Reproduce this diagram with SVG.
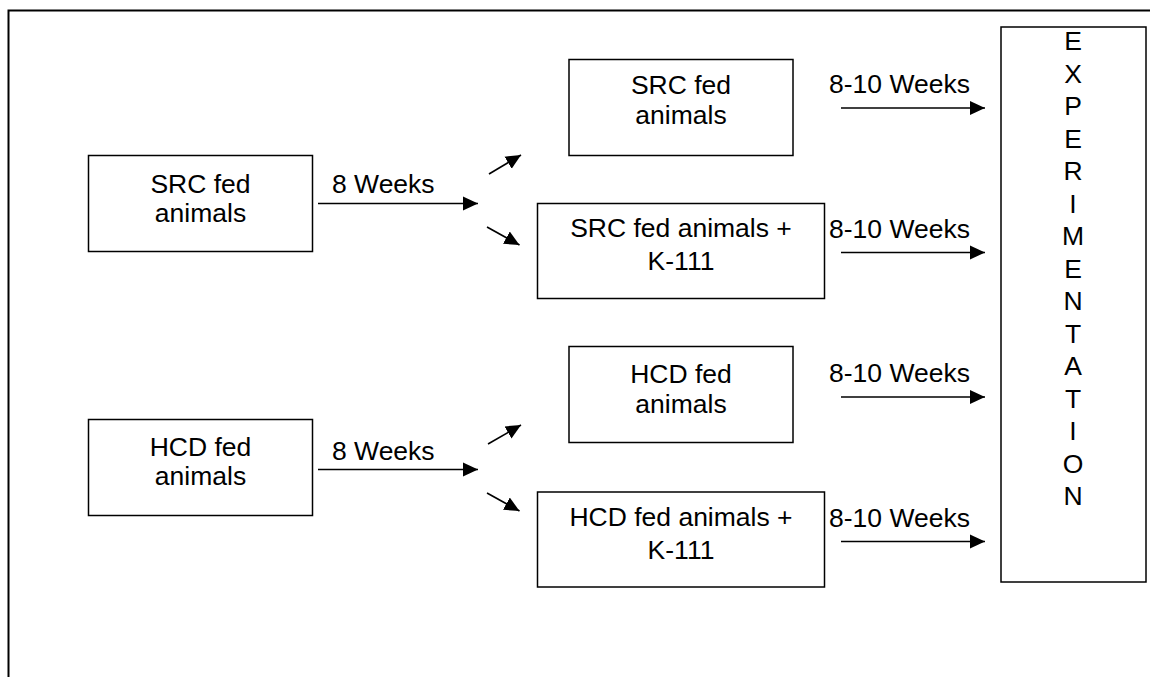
<svg xmlns="http://www.w3.org/2000/svg" width="1150" height="677" viewBox="0 0 1150 677">
<style>
text{font-family:"Liberation Sans",Arial,sans-serif;font-size:26.5px;fill:#000}
.c{text-anchor:middle}
.box{fill:#fff;stroke:#000;stroke-width:1.5}
.ln{stroke:#000;stroke-width:1.6;fill:none}
</style>
<defs>
<marker id="ah" markerUnits="userSpaceOnUse" markerWidth="16" markerHeight="16" viewBox="0 0 16 16" refX="15" refY="8" orient="auto">
<path d="M0,1 L15,8 L0,15 Z" fill="#000"/>
</marker>
</defs>
<rect width="1150" height="677" fill="#fff"/>
<g id="frame">
<path d="M8.5,677 V10.5 H1150" fill="none" stroke="#000" stroke-width="2"/>
</g>
<g id="src">
<rect class="box" x="88.5" y="155.5" width="224" height="96"/>
<text class="c" x="200.5" y="193">SRC fed</text>
<text class="c" x="200.5" y="222">animals</text>
</g>
<g id="hcd">
<rect class="box" x="88.5" y="419.5" width="224" height="96"/>
<text class="c" x="200.5" y="456">HCD fed</text>
<text class="c" x="200.5" y="485">animals</text>
</g>
<g id="src2">
<rect class="box" x="569" y="59.5" width="224" height="96"/>
<text class="c" x="681" y="94">SRC fed</text>
<text class="c" x="681" y="124">animals</text>
</g>
<g id="srck">
<rect class="box" x="537.5" y="203.5" width="287" height="95"/>
<text class="c" x="681" y="237">SRC fed animals +</text>
<text class="c" x="681" y="270">K-111</text>
</g>
<g id="hcd2">
<rect class="box" x="569" y="346.5" width="224" height="96"/>
<text class="c" x="681" y="383">HCD fed</text>
<text class="c" x="681" y="413">animals</text>
</g>
<g id="hcdk">
<rect class="box" x="537.5" y="492" width="287" height="95"/>
<text class="c" x="681" y="526">HCD fed animals +</text>
<text class="c" x="681" y="559">K-111</text>
</g>
<g id="exp">
<rect class="box" x="1001" y="27" width="145" height="555"/>
<text class="c" x="1073" y="50">E</text>
<text class="c" x="1073" y="82.5">X</text>
<text class="c" x="1073" y="115">P</text>
<text class="c" x="1073" y="147.5">E</text>
<text class="c" x="1073" y="180">R</text>
<text class="c" x="1073" y="212.5">I</text>
<text class="c" x="1073" y="245">M</text>
<text class="c" x="1073" y="277.5">E</text>
<text class="c" x="1073" y="310">N</text>
<text class="c" x="1073" y="342.5">T</text>
<text class="c" x="1073" y="375">A</text>
<text class="c" x="1073" y="407.5">T</text>
<text class="c" x="1073" y="440">I</text>
<text class="c" x="1073" y="472.5">O</text>
<text class="c" x="1073" y="505">N</text>
</g>
<g id="connectors">
<line class="ln" x1="318" y1="203.5" x2="478" y2="203.5" marker-end="url(#ah)"/>
<line class="ln" x1="318" y1="469.5" x2="478" y2="469.5" marker-end="url(#ah)"/>
<line class="ln" x1="489" y1="174" x2="521" y2="155" marker-end="url(#ah)"/>
<line class="ln" x1="487" y1="227" x2="519.5" y2="245" marker-end="url(#ah)"/>
<line class="ln" x1="488" y1="444" x2="521" y2="425" marker-end="url(#ah)"/>
<line class="ln" x1="487" y1="493" x2="519.5" y2="511" marker-end="url(#ah)"/>
<line class="ln" x1="841" y1="108" x2="985" y2="108" marker-end="url(#ah)"/>
<line class="ln" x1="841" y1="252.5" x2="985" y2="252.5" marker-end="url(#ah)"/>
<line class="ln" x1="841" y1="397" x2="985" y2="397" marker-end="url(#ah)"/>
<line class="ln" x1="841" y1="541.5" x2="985" y2="541.5" marker-end="url(#ah)"/>
<text x="332" y="193">8 Weeks</text>
<text x="332" y="460">8 Weeks</text>
<text x="829" y="93">8-10 Weeks</text>
<text x="829" y="238">8-10 Weeks</text>
<text x="829" y="382">8-10 Weeks</text>
<text x="829" y="527">8-10 Weeks</text>
</g>
</svg>
